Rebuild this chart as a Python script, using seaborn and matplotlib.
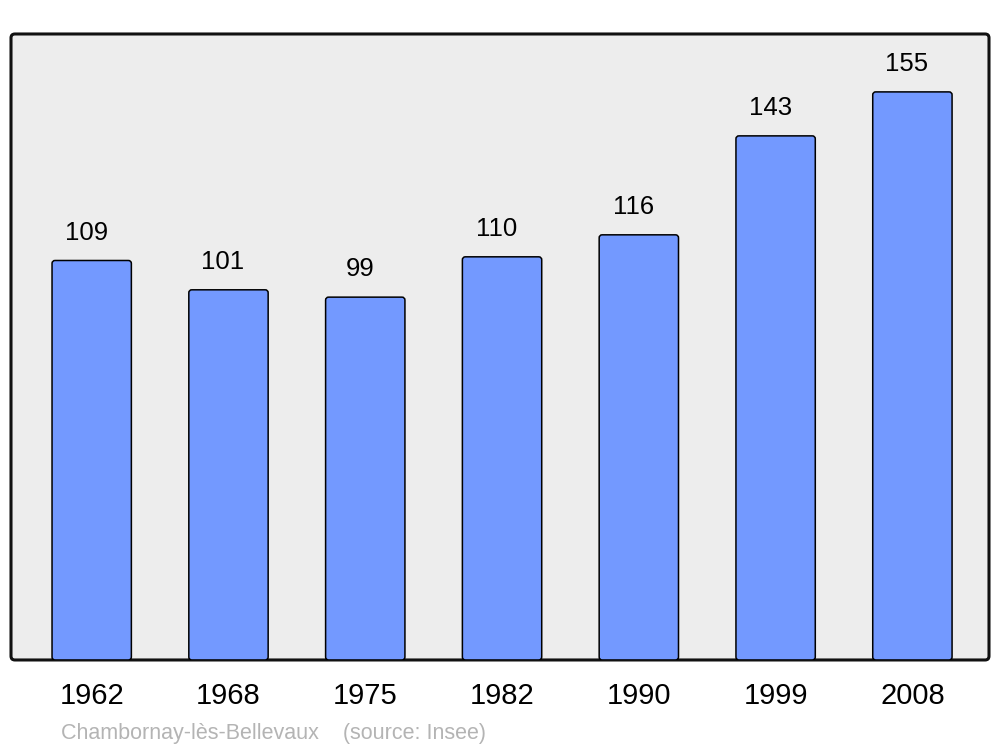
import matplotlib
matplotlib.use("Agg")
import matplotlib.pyplot as plt
from matplotlib.patches import FancyBboxPatch
import seaborn as sns
import pandas as pd

years = ["1962", "1968", "1975", "1982", "1990", "1999", "2008"]
population = [109, 101, 99, 110, 116, 143, 155]
commune = "Chambornay-lès-Bellevaux"
source = "(source: Insee)"

sns.set_theme(style="white")
plt.rcParams['font.family'] = ['Liberation Sans', 'DejaVu Sans']

df = pd.DataFrame({"year": years, "pop": population})

fig = plt.figure(figsize=(10, 7.47), dpi=100)
ax = fig.add_axes([0.011, 0.1165, 0.978, 0.838])

sns.barplot(data=df, x="year", y="pop", ax=ax, color="#7399ff",
            width=0.58, saturation=1, edgecolor="black", linewidth=1.1,
            zorder=3)

ax.set_xlim(-0.59, 6.56)
ax.set_ylim(0, 170.8)

# swap the square bars for slightly rounded ones
for p in list(ax.patches):
    x0, y0 = p.get_x(), p.get_y()
    w, h = p.get_width(), p.get_height()
    rb = FancyBboxPatch((x0, y0), w, h,
                        boxstyle="round,pad=0,rounding_size=0.022",
                        mutation_aspect=37,
                        facecolor="#7399ff", edgecolor="black",
                        linewidth=1.1, zorder=3)
    p.remove()
    ax.add_patch(rb)

for i, v in enumerate(population):
    ax.annotate(str(v), (i, v), xytext=(-4, 20), textcoords="offset points",
                ha="center", va="center", fontsize=18.5, color="black")

# rounded frame as the background
ax.patch.set_visible(False)
for s in ax.spines.values():
    s.set_visible(False)
frame = FancyBboxPatch((0, 0), 1, 1, transform=ax.transAxes,
                       boxstyle="round,pad=0,rounding_size=0.004",
                       mutation_aspect=1.562,
                       facecolor="#ededed", edgecolor="#111111",
                       linewidth=2.2, zorder=0, clip_on=False)
ax.add_patch(frame)

ax.set_yticks([])
ax.set_xlabel("")
ax.set_ylabel("")
ax.tick_params(axis="x", length=0, pad=16, labelsize=21, labelcolor="black")

fig.text(0.061, 0.011, commune + "    " + source, fontsize=15.5,
         color="#b4b4b4", ha="left", va="baseline")

fig.savefig("out.png", dpi=100)
